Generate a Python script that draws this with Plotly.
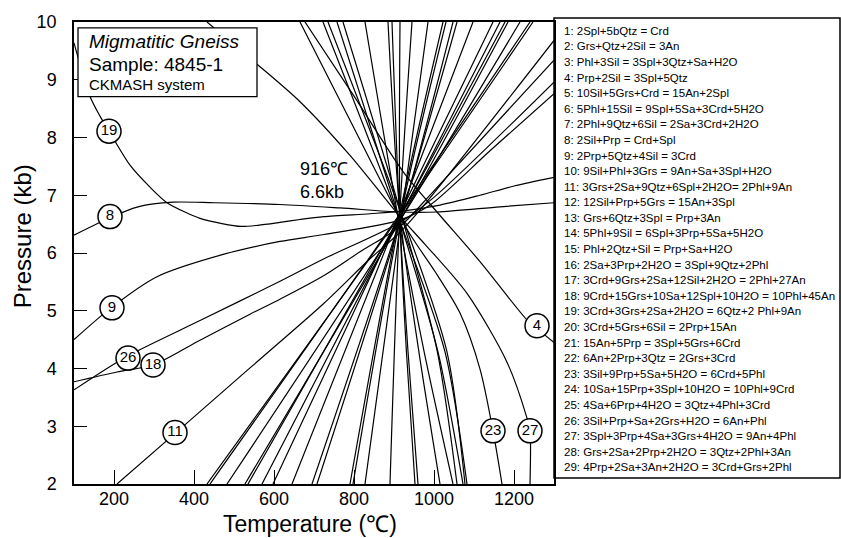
import plotly.graph_objects as go

# ---- labelled reaction curves (Temperature in C, Pressure in kb) ----
r8_T = [100, 192.5, 260, 347.5, 450, 615, 765, 915, 1007.5, 1165, 1300]
r8_P = [6.31, 6.62, 6.80, 6.88, 6.87, 6.84, 6.78, 6.71, 6.71, 6.80, 6.87]

r19_T = [100, 110, 140, 165, 187.5, 240, 290, 332.5, 380, 415, 470, 517.5, 560, 615, 665, 725, 840, 915, 1015, 1115, 1200, 1300]
r19_P = [9.64, 9.39, 8.71, 8.37, 8.11, 7.52, 7.14, 6.87, 6.70, 6.60, 6.51, 6.46, 6.48, 6.53, 6.58, 6.63, 6.68, 6.72, 6.83, 7.00, 7.16, 7.31]

r9_T = [100, 192.5, 307.5, 475, 615, 725, 915, 990, 1140, 1300]
r9_P = [4.50, 5.05, 5.59, 5.98, 6.20, 6.32, 6.57, 6.83, 7.77, 8.76]

r26_T = [100, 230, 415, 615, 725, 915, 997.5, 1300]
r26_P = [3.63, 4.20, 4.83, 5.51, 5.90, 6.53, 6.95, 8.96]

r18_T = [100, 207.5, 297.5, 415, 540, 615, 725, 815, 915, 997.5, 1300]
r18_P = [3.77, 3.94, 4.06, 4.49, 4.94, 5.20, 5.61, 6.02, 6.46, 7.06, 9.34]

r11_T = [207.5, 355, 540, 725, 840, 915, 982.5, 1300]
r11_P = [2.0, 2.89, 4.01, 5.13, 5.90, 6.36, 6.89, 9.68]

r4_T = [677.5, 802.5, 922.5, 1007.5, 1115, 1232.5, 1257.5, 1300]
r4_P = [10, 8.69, 7.41, 6.71, 5.85, 4.84, 4.69, 4.45]

r23_T = [665, 790, 915, 952.5, 1002.5, 1065, 1115, 1147.5, 1170]
r23_P = [10, 8.30, 6.61, 6.19, 5.68, 4.96, 3.99, 2.92, 2.0]

r27_T = [432.5, 552.5, 665, 790, 915, 977.5, 1082.5, 1182.5, 1232.5, 1240, 1240]
r27_P = [10, 9.30, 8.62, 7.69, 6.63, 6.15, 5.30, 4.11, 3.14, 2.92, 2.0]

# ---- unlabelled reactions: lower-left to upper-right ----
fanA_T = [[432.5, 905, 1247.5], [440, 912, 1240], [482.5, 918, 1215], [527.5, 910, 1185],
          [535, 920, 1177.5], [570, 915, 1165], [597.5, 908, 1147.5], [645, 914, 1097.5],
          [695, 916, 1057.5], [707.5, 920, 1047.5], [790, 912, 1022.5], [797.5, 918, 1030],
          [827.5, 916, 985], [890, 914, 945]]
fanA_P = [[2, 6.55, 10], [2, 6.65, 10], [2, 6.60, 10], [2, 6.50, 10],
          [2, 6.70, 10], [2, 6.62, 10], [2, 6.58, 10], [2, 6.68, 10],
          [2, 6.60, 10], [2, 6.66, 10], [2, 6.60, 10], [2, 6.70, 10],
          [2, 6.50, 10], [2, 6.60, 10]]

# ---- unlabelled reactions: upper-left to lower-right ----
fanB_T = [[722.5, 912, 1027, 1082.5], [735, 918, 1032, 1077.5], [757.5, 915, 1009.5, 1072.5],
          [772.5, 920, 1008, 1057.5], [827.5, 912, 975, 1047.5], [885, 916, 962, 1015],
          [895, 914, 935, 960], [915, 915, 931, 952.5]]
fanB_P = [[10, 6.60, 4.3, 2], [10, 6.68, 4.3, 2], [10, 6.55, 4.3, 2],
          [10, 6.62, 4.3, 2], [10, 6.55, 4.3, 2], [10, 6.60, 4.3, 2],
          [10, 6.62, 4.3, 2], [10, 6.60, 4.3, 2]]

# ---- curve number labels ----
label_text = ["19", "8", "9", "26", "18", "11", "4", "23", "27"]
label_T = [187.5, 190, 195, 235, 297.5, 352.5, 1257.5, 1147.5, 1240]
label_P = [8.11, 6.63, 5.05, 4.18, 4.06, 2.89, 4.74, 2.92, 2.92]

x_ticks = [200, 400, 600, 800, 1000, 1200]
y_ticks = [2, 3, 4, 5, 6, 7, 8, 9, 10]

reactions = [
    "1: 2Spl+5bQtz = Crd",
    "2: Grs+Qtz+2Sil = 3An",
    "3: Phl+3Sil = 3Spl+3Qtz+Sa+H2O",
    "4: Prp+2Sil = 3Spl+5Qtz",
    "5: 10Sil+5Grs+Crd = 15An+2Spl",
    "6: 5Phl+15Sil = 9Spl+5Sa+3Crd+5H2O",
    "7: 2Phl+9Qtz+6Sil = 2Sa+3Crd+2H2O",
    "8: 2Sil+Prp = Crd+Spl",
    "9: 2Prp+5Qtz+4Sil = 3Crd",
    "10: 9Sil+Phl+3Grs = 9An+Sa+3Spl+H2O",
    "11: 3Grs+2Sa+9Qtz+6Spl+2H2O= 2Phl+9An",
    "12: 12Sil+Prp+5Grs = 15An+3Spl",
    "13: Grs+6Qtz+3Spl = Prp+3An",
    "14: 5Phl+9Sil = 6Spl+3Prp+5Sa+5H2O",
    "15: Phl+2Qtz+Sil = Prp+Sa+H2O",
    "16: 2Sa+3Prp+2H2O = 3Spl+9Qtz+2Phl",
    "17: 3Crd+9Grs+2Sa+12Sil+2H2O = 2Phl+27An",
    "18: 9Crd+15Grs+10Sa+12Spl+10H2O = 10Phl+45An",
    "19: 3Crd+3Grs+2Sa+2H2O = 6Qtz+2 Phl+9An",
    "20: 3Crd+5Grs+6Sil = 2Prp+15An",
    "21: 15An+5Prp = 3Spl+5Grs+6Crd",
    "22: 6An+2Prp+3Qtz = 2Grs+3Crd",
    "23: 3Sil+9Prp+5Sa+5H2O = 6Crd+5Phl",
    "24: 10Sa+15Prp+3Spl+10H2O = 10Phl+9Crd",
    "25: 4Sa+6Prp+4H2O = 3Qtz+4Phl+3Crd",
    "26: 3Sil+Prp+Sa+2Grs+H2O = 6An+Phl",
    "27: 3Spl+3Prp+4Sa+3Grs+4H2O = 9An+4Phl",
    "28: Grs+2Sa+2Prp+2H2O = 3Qtz+2Phl+3An",
    "29: 4Prp+2Sa+3An+2H2O = 3Crd+Grs+2Phl",
]

FONT = "Arial, Liberation Sans, sans-serif"
W, H = 841, 538
L, R, T, B = 74, 287, 14, 54
pw, ph = W - L - R, H - T - B


def px2paper_x(px):
    return (px - L) / pw


def py2paper_y(py):
    return (H - B - py) / ph


fig = go.Figure()
line_style = dict(color="black", width=1.2, shape="spline", smoothing=0.8)

curves = [(r8_T, r8_P), (r19_T, r19_P), (r9_T, r9_P), (r26_T, r26_P), (r18_T, r18_P),
          (r11_T, r11_P), (r4_T, r4_P), (r23_T, r23_P), (r27_T, r27_P)]
for tt, pp in curves:
    fig.add_trace(go.Scatter(x=tt, y=pp, mode="lines", line=line_style, hoverinfo="skip"))
for tt, pp in zip(fanA_T, fanA_P):
    fig.add_trace(go.Scatter(x=tt, y=pp, mode="lines", line=line_style, hoverinfo="skip"))
for tt, pp in zip(fanB_T, fanB_P):
    fig.add_trace(go.Scatter(x=tt, y=pp, mode="lines", line=line_style, hoverinfo="skip"))

fig.add_trace(go.Scatter(
    x=label_T, y=label_P, mode="markers+text", text=label_text,
    textposition="middle center",
    textfont=dict(family=FONT, size=15, color="black"),
    marker=dict(size=24, color="white", line=dict(color="black", width=1.5)),
    hoverinfo="skip"))

shapes = [
    dict(type="rect", xref="paper", yref="paper",
         x0=px2paper_x(78), x1=px2paper_x(257), y0=py2paper_y(90), y1=py2paper_y(20),
         line=dict(color="black", width=1.3), fillcolor="white", layer="above"),
    dict(type="rect", xref="paper", yref="paper",
         x0=1.0, x1=px2paper_x(840), y0=py2paper_y(478), y1=py2paper_y(10),
         line=dict(color="black", width=1.5), fillcolor="rgba(0,0,0,0)", layer="above"),
]

annotations = []
annotations.append(dict(xref="paper", yref="paper", x=px2paper_x(87), y=py2paper_y(34),
                        text="<i>Migmatitic Gneiss</i>", showarrow=False, xanchor="left",
                        yanchor="middle", font=dict(family=FONT, size=19, color="black")))
annotations.append(dict(xref="paper", yref="paper", x=px2paper_x(87), y=py2paper_y(57),
                        text="Sample: 4845-1", showarrow=False, xanchor="left",
                        yanchor="middle", font=dict(family=FONT, size=19, color="black")))
annotations.append(dict(xref="paper", yref="paper", x=px2paper_x(87), y=py2paper_y(78),
                        text="CKMASH system", showarrow=False, xanchor="left",
                        yanchor="middle", font=dict(family=FONT, size=15, color="black")))
annotations.append(dict(x=660, y=7.25, xref="x", yref="y",
                        text="916℃<br>6.6kb", showarrow=False, xanchor="left",
                        yanchor="middle", align="left",
                        font=dict(family=FONT, size=18, color="black")))
annotations.append(dict(xref="paper", yref="paper", x=px2paper_x(22), y=py2paper_y(232),
                        text="Pressure (kb)", textangle=-90, showarrow=False,
                        xanchor="center", yanchor="middle",
                        font=dict(family=FONT, size=24, color="black")))
annotations.append(dict(xref="paper", yref="paper", x=px2paper_x(310), y=py2paper_y(525),
                        text="Temperature (℃)", showarrow=False,
                        xanchor="center", yanchor="middle",
                        font=dict(family=FONT, size=23, color="black")))

for i, txt in enumerate(reactions):
    yy = 23 + i * (467 - 23) / 28
    annotations.append(dict(xref="paper", yref="paper", x=px2paper_x(562), y=py2paper_y(yy),
                            text=txt, showarrow=False, xanchor="left", yanchor="middle",
                            font=dict(family=FONT, size=11.5, color="black")))

fig.update_layout(
    width=W, height=H, margin=dict(l=L, r=R, t=T, b=B),
    paper_bgcolor="white", plot_bgcolor="white", showlegend=False,
    shapes=shapes, annotations=annotations,
    xaxis=dict(range=[100, 1300], tickvals=x_ticks, ticks="inside", ticklen=14,
               tickwidth=1.3, tickcolor="black", showline=True, linewidth=1.5,
               linecolor="black", mirror=True, showgrid=False, zeroline=False,
               tickfont=dict(family=FONT, size=18, color="black"), ticklabelstandoff=-2),
    yaxis=dict(range=[2, 10], tickvals=y_ticks, ticks="inside", ticklen=13,
               tickwidth=1.3, tickcolor="black", showline=True, linewidth=1.5,
               linecolor="black", mirror=True, showgrid=False, zeroline=False,
               tickfont=dict(family=FONT, size=18, color="black"), ticklabelstandoff=12),
)

fig.write_html("out.html")
